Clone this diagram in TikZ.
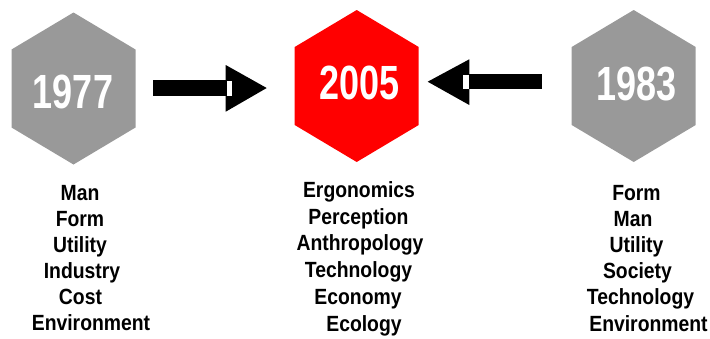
\documentclass[tikz,border=0pt]{standalone}
\usepackage{fontspec}
\setmainfont{Liberation Sans}
\newfontfamily\yearfont[FakeStretch=0.75]{Liberation Sans Bold}
\newfontfamily\itemfont[FakeStretch=0.88]{Liberation Sans Bold}
\definecolor{hexgrey}{HTML}{999999}
\definecolor{hexred}{HTML}{FF0000}
\tikzset{
  hexagon/.pic={
    \fill (0,-76) -- (62,-39) -- (62,39) -- (0,76) -- (-62,39) -- (-62,-39) -- cycle;
  },
  year/.style={anchor=base, inner sep=0pt, text=white,
    font=\yearfont\fontsize{48}{48}\selectfont},
  item/.style={anchor=base, inner sep=0pt, text=black,
    font=\itemfont\fontsize{22}{22}\selectfont},
  blockarrow/.style={fill=black},
  notch/.style={fill=white}
}
\begin{document}
\begin{tikzpicture}[x=1pt,y=-1pt]
  \useasboundingbox (0,0) rectangle (710,338);

  % hexagon centres
  \coordinate (h1) at (73.5,88.5);
  \coordinate (h2) at (356.7,86);
  \coordinate (h3) at (633.7,86);

  \pic[hexgrey] at (h1) {hexagon};
  \pic[hexred]  at (h2) {hexagon};
  \pic[hexgrey] at (h3) {hexagon};

  \node[year] (y1977) at (73,108.5) {1977};
  \node[year] (y2005) at (359.2,99.5) {2005};
  \node[year] (y1983) at (636.3,100) {1983};

  % block arrow 1977 -> 2005
  \coordinate (a1tail) at (153,88);
  \coordinate (a1tip) at (266.7,88);
  \fill[blockarrow] (a1tail) ++(0,-8) rectangle ++(74,16);
  \fill[blockarrow] (a1tip) -- ++(-41,-23) -- ++(0,46.7) -- cycle;
  \fill[notch] (226.8,81) rectangle (232,95.5);

  % block arrow 1983 -> 2005
  \coordinate (a2tail) at (541.7,81.7);
  \coordinate (a2tip) at (427.7,81.7);
  \fill[blockarrow] (a2tail) ++(0,-7.7) rectangle ++(-73,15.3);
  \fill[blockarrow] (a2tip) -- ++(41.6,-22.4) -- ++(0,45.7) -- cycle;
  \fill[notch] (462.7,75) rectangle (468.8,88.5);

  % 1977 criteria
  \node[item] (l1) at (80,200)   {Man};
  \node[item] (l2) at (80,226)   {Form};
  \node[item] (l3) at (80,252)   {Utility};
  \node[item] (l4) at (82,278)   {Industry};
  \node[item] (l5) at (80.5,304) {Cost};
  \node[item] (l6) at (91,330)   {Environment};

  % 2005 criteria
  \node[item] (m1) at (359,197.5)   {Ergonomics};
  \node[item] (m2) at (358.5,224) {Perception};
  \node[item] (m3) at (360,250.5) {Anthropology};
  \node[item] (m4) at (358.5,277.5) {Technology};
  \node[item] (m5) at (358,304.5) {Economy};
  \node[item] (m6) at (364,331)   {Ecology};

  % 1983 criteria
  \node[item] (r1) at (636.5,200)   {Form};
  \node[item] (r2) at (633,226.2)   {Man};
  \node[item] (r3) at (636.5,252.4) {Utility};
  \node[item] (r4) at (637.5,278.6) {Society};
  \node[item] (r5) at (640.5,304.8) {Technology};
  \node[item] (r6) at (648.5,331)   {Environment};
\end{tikzpicture}
\end{document}
